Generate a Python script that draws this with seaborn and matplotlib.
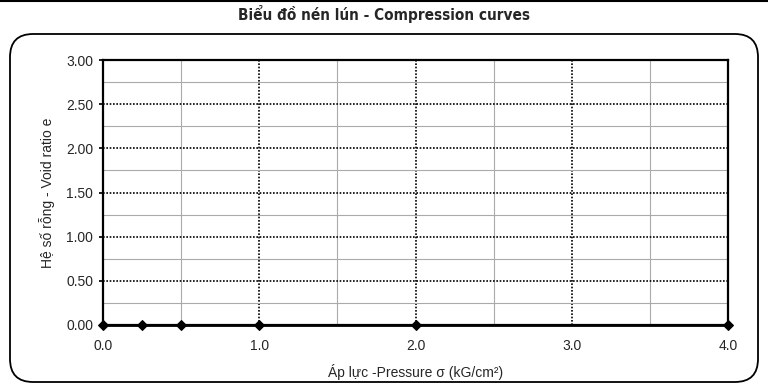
import matplotlib
matplotlib.use("Agg")
import matplotlib.pyplot as plt
import seaborn as sns
import pandas as pd
from matplotlib.patches import FancyBboxPatch
from matplotlib.lines import Line2D
from matplotlib.ticker import MultipleLocator

pressure = [0.0, 0.25, 0.5, 1.0, 2.0, 4.0]
void_ratio = [0.0, 0.0, 0.0, 0.0, 0.0, 0.0]
x_ticks = [0.0, 1.0, 2.0, 3.0, 4.0]
y_ticks = [0.0, 0.5, 1.0, 1.5, 2.0, 2.5, 3.0]
title = "Biểu đồ nén lún - Compression curves"
xlabel = "Áp lực -Pressure σ (kG/cm²)"
ylabel = "Hệ số rỗng - Void ratio e"

sns.set_theme(style="white")
plt.rcParams['font.family'] = ['Liberation Sans', 'DejaVu Sans']

fig = plt.figure(figsize=(7.68, 3.85), dpi=100)
# rounded frame
box = FancyBboxPatch((10 / 768, 3 / 385), 748 / 768, 348 / 385,
                     boxstyle="round,pad=0,rounding_size=0.03",
                     transform=fig.transFigure, fill=False,
                     edgecolor="black", linewidth=1.3, mutation_aspect=2.0)
fig.patches.append(box)
fig.add_artist(Line2D([0, 1], [1 - 1 / 385, 1 - 1 / 385], color="black", lw=1.5,
                      transform=fig.transFigure))

ax = fig.add_axes([103 / 768, 1 - 325 / 385, 625 / 768, 265 / 385])
df = pd.DataFrame({"p": pressure, "e": void_ratio})
sns.lineplot(data=df, x="p", y="e", ax=ax, color="black", lw=2,
             marker="D", markersize=5, markeredgecolor="black", zorder=5,
             clip_on=False)

ax.set_xlim(0, 4)
ax.set_ylim(0, 3)
ax.set_xticks(x_ticks)
ax.set_xticklabels([f"{v:.1f}" for v in x_ticks])
ax.set_yticks(y_ticks)
ax.set_yticklabels([f"{v:.2f}" for v in y_ticks])
ax.xaxis.set_minor_locator(MultipleLocator(0.5))
ax.yaxis.set_minor_locator(MultipleLocator(0.25))
ax.grid(True, which="minor", color="#aaaaaa", lw=0.8, ls="-")
ax.grid(True, which="major", color="black", lw=1.2, ls=(0, (1, 1)))
ax.tick_params(axis="both", which="major", labelsize=10, length=3, color="black",
               direction="out", pad=4)
ax.tick_params(axis="both", which="minor", length=0)
ax.tick_params(axis="x", bottom=False, pad=7)
ax.tick_params(axis="y", left=True)
for s in ax.spines.values():
    s.set_visible(True)
    s.set_color("black")
    s.set_linewidth(1.6)

ax.set_xlabel(xlabel, fontsize=10, labelpad=8)
ax.set_ylabel(ylabel, fontsize=10, labelpad=8)
fig.text(0.5, 1 - 14 / 385, title, ha="center", va="center", fontsize=11,
         fontweight="bold", fontstretch="condensed",
         family=["DejaVu Sans"])

fig.savefig("out.png", dpi=100)
